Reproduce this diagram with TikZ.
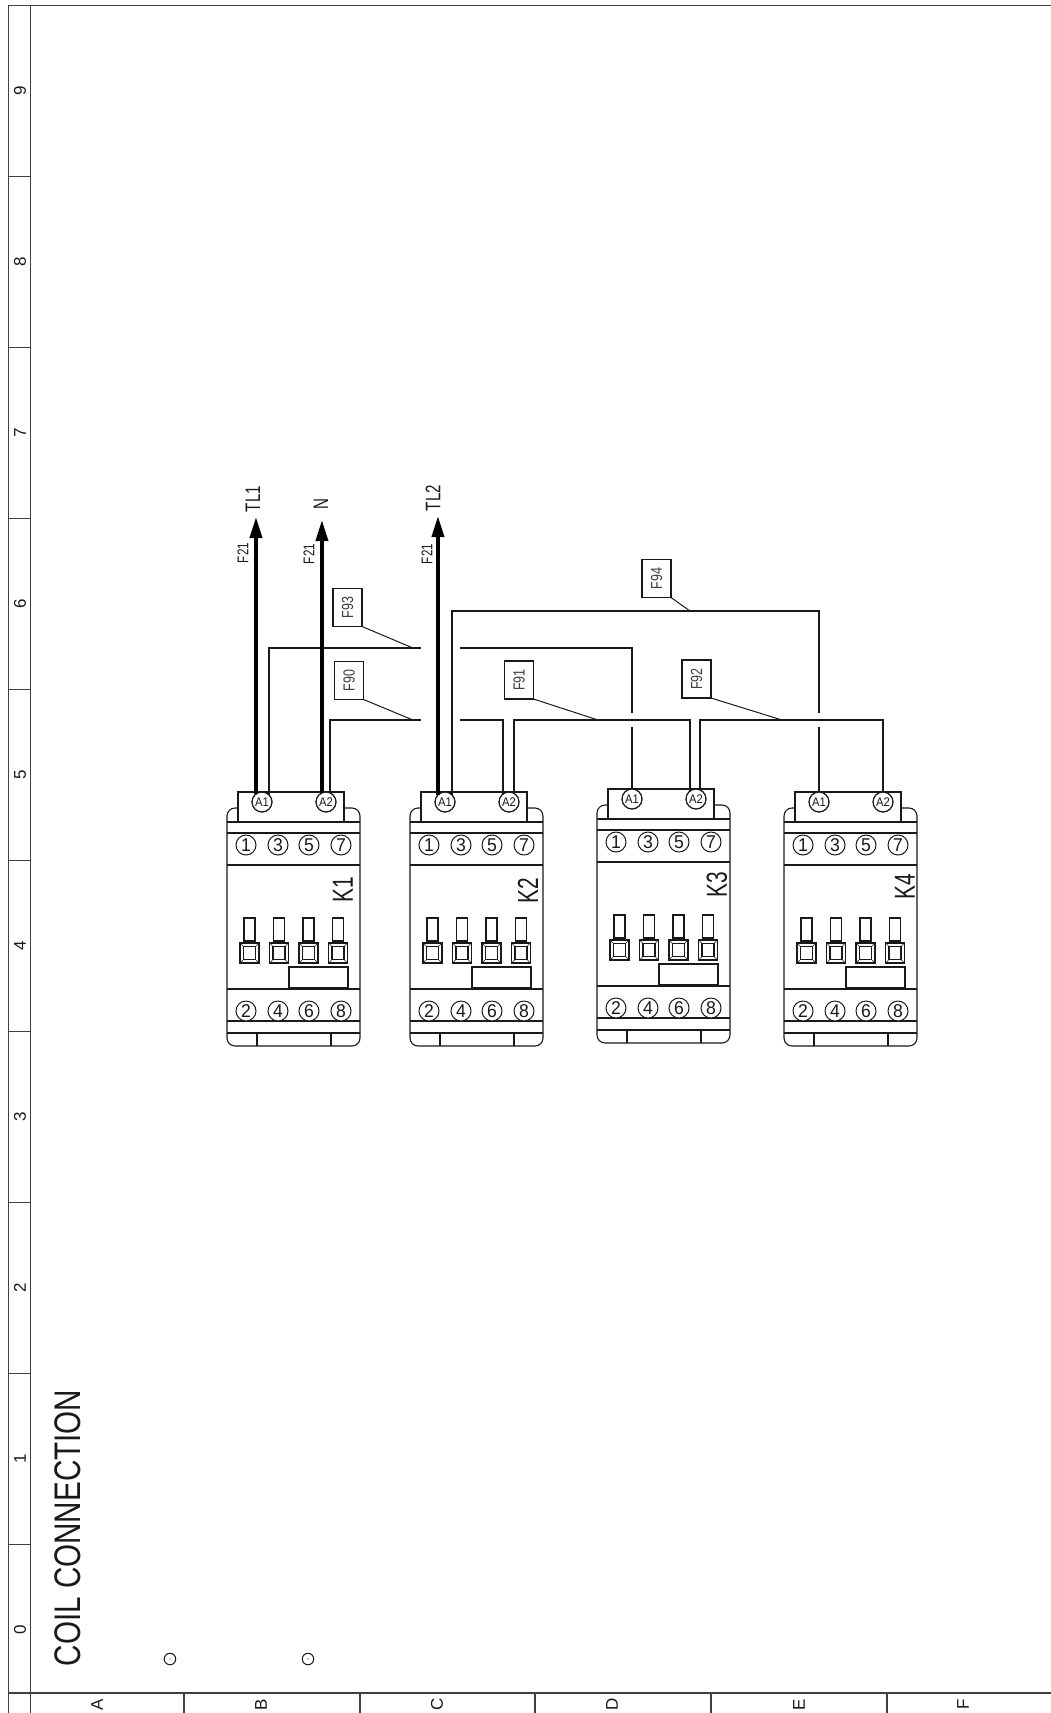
\documentclass[tikz,border=0pt]{standalone}
\usepackage{fontspec}
\usepackage{graphicx}
\setmainfont{Liberation Sans}
\usetikzlibrary{arrows.meta,calc}
\definecolor{ink}{gray}{0.1}
\definecolor{frameink}{gray}{0.25}
\newcommand{\fs}[1]{\fontsize{#1}{#1}\selectfont}
\newcommand{\sq}[2]{\scalebox{#1}[1]{#2}}
\tikzset{
  framel/.style={draw=frameink,line width=1.3pt},
  devl/.style={draw=ink,line width=1.1pt},
  wire/.style={draw=ink,line width=1.6pt,line join=miter},
  feed/.style={draw=black,line width=3.6pt,-{Triangle[length=21pt,width=12pt]}},
  leader/.style={draw=ink,line width=1pt},
  term/.style={circle,draw=ink,line width=1pt,fill=white,minimum size=20pt,inner sep=0pt,outer sep=0pt,text=ink},
  coil/.style={term,font=\fs{12.5}},
  num/.style={term,font=\fs{18.5}},
  tag/.style={draw=ink,line width=1.1pt,fill=white,minimum width=29pt,minimum height=38pt,inner sep=0pt,outer sep=0pt,text=ink!85!white,font=\fs{16}},
  rtext/.style={rotate=90,inner sep=0pt,text=ink},
}
\newcommand{\contactor}[5]{%
\begin{scope}[shift={(#2,#3)}]
  \draw[devl,rounded corners=8pt] (238,808) -- (227,808) -- (227,1046) -- (360,1046) -- (360,808) -- (344,808);
  \draw[devl,fill=white] (238,822) rectangle (344,792);
  \foreach \yy in {833,865,989,1021,1033}{\draw[devl] (227,\yy) -- (360,\yy);}
  \draw[devl] (227,822) -- (360,822);
  \draw[devl] (257,1033) -- (257,1046) (331,1033) -- (331,1046);
  \draw[devl] (289,967) rectangle (348,988);
  \foreach \xx in {0,1,2,3}{
    \begin{scope}[xshift=29.5*\xx]
      \draw[devl] (244,918) rectangle (255,941);
      \draw[devl,line width=1.1pt] (240,943) rectangle (259,963);
      \draw[devl] (243.5,946.5) rectangle (255.5,959.5);
      \draw[devl,line width=0.6pt] (240,943) -- (243.5,946.5) (259,943) -- (255.5,946.5) (240,963) -- (243.5,959.5) (259,963) -- (255.5,959.5);
    \end{scope}
  }
  \node[coil] (#1A1) at (262,802) {\sq{.9}{A1}};
  \node[coil] (#1A2) at (326,802) {\sq{.9}{A2}};
  \foreach \n/\xx in {1/246,3/278,5/309,7/341}{\node[num] (#1t\n) at (\xx,845) {\sq{.95}{\n}};}
  \foreach \n/\xx in {2/246,4/278,6/309,8/341}{\node[num] (#1t\n) at (\xx,1011) {\sq{.95}{\n}};}
  \node[rtext,font=\fs{29}] (#1lab) at (#4,#5) {\sq{.72}{#1}};
\end{scope}}
\begin{document}
\begin{tikzpicture}[x=1pt,y=-1pt]
\useasboundingbox (0,0) rectangle (1051,1713);
% sheet frame
\draw[framel] (1051,5.5) -- (8.5,5.5) -- (8.5,1713);
\draw[framel] (30.5,5.5) -- (30.5,1713);
\draw[framel] (8.5,1693) -- (1051,1693);
\foreach \yy in {176.5,347.5,518.5,689.5,860.5,1031.5,1202.5,1373.5,1544.5}{\draw[framel,line width=1pt] (8.5,\yy) -- (30.5,\yy);}
\foreach \xx in {184,360,535,711,887}{\draw[framel] (\xx,1693) -- (\xx,1713);}
\foreach \d/\yy in {9/90.5,8/261.5,7/432.5,6/603.5,5/774.5,4/945.5,3/1116.5,2/1287.5,1/1458.5,0/1629.5}{
  \node[rtext,font=\fs{17}] (dig\d) at (20,\yy) {\d};}
\foreach \d/\xx in {A/97,B/261,C/437,D/612,E/799,F/963}{
  \node[rtext,font=\fs{17}] (let\d) at (\xx,1704.5) {\d};}
\node[rtext,font=\fs{37}] (title) at (68,1528) {\sq{.8}{COIL CONNECTION}};
\node[circle,draw=ink,line width=1pt,minimum size=11.5pt,inner sep=0pt] (holeA) at (170,1659) {};
\node[circle,draw=ink,line width=1pt,minimum size=11.5pt,inner sep=0pt] (holeB) at (308,1659) {};
\fill[ink] (holeA.center) circle (0.6pt) (holeB.center) circle (0.6pt);
% contactors
\contactor{K1}{0}{0}{343}{890}
\contactor{K2}{183}{0}{345}{891}
\contactor{K3}{370}{-3}{347}{888}
\contactor{K4}{557}{0}{348}{887}
% free ends of the connectors
\coordinate (tipTL1) at (0,517);
\coordinate (tipN) at (0,520);
\coordinate (tipTL2) at (0,516);
\coordinate (busA) at (0,648);
\coordinate (busB) at (0,720);
\coordinate (busC) at (0,611);
\coordinate (gapL) at (421,0);
\coordinate (gapR) at (460,0);
\coordinate (gapT) at (0,713);
\coordinate (gapB) at (0,727);
\coordinate (hopA) at (690,611);
\coordinate (hopB) at (413,648);
\coordinate (hopC) at (413,720);
\coordinate (hopD) at (598,720);
\coordinate (hopE) at (782,720);
% coil wiring
\draw[wire] (K1A1.45) |- (gapL |- busA);
\draw[wire] (gapR |- busA) -| (K3A1.north |- gapT);
\draw[wire] (K3A1.north |- gapB) -- (K3A1.north);
\draw[wire] (K1A2.66) |- (gapL |- busB);
\draw[wire] (gapR |- busB) -| (K2A2.127);
\draw[wire] (K2A2.60) |- (K3A2.127 |- busB) -- (K3A2.127);
\draw[wire] (K3A2.66) |- (K4A2.north |- busB) -- (K4A2.north);
\draw[wire] (K2A1.45) |- (K4A1.north |- busC) -- (K4A1.north |- gapT);
\draw[wire] (K4A1.north |- gapB) -- (K4A1.north);
% supply feeds
\draw[feed] (K1A1.127) -- (K1A1.127 |- tipTL1);
\draw[feed] (K1A2.114) -- (K1A2.114 |- tipN);
\draw[feed] (K2A1.135) -- (K2A1.135 |- tipTL2);
% redraw terminals over the wires' ends
\foreach \k in {K1,K2,K3,K4}{\draw[draw=ink,line width=1pt] (\k A1) circle (10pt) (\k A2) circle (10pt);}
% feed labels
\node[rtext,font=\fs{21}] (lTL1) at (253,499) {\sq{.72}{TL1}};
\node[rtext,font=\fs{21}] (lN) at (321,504) {\sq{.72}{N}};
\node[rtext,font=\fs{21}] (lTL2) at (433,498) {\sq{.72}{TL2}};
\node[rtext,font=\fs{15.5}] (f21a) at (243,553) {\sq{.75}{F21}};
\node[rtext,font=\fs{15.5}] (f21b) at (309,554) {\sq{.75}{F21}};
\node[rtext,font=\fs{15.5}] (f21c) at (427,554) {\sq{.75}{F21}};
% wire tags
\node[tag] (F93) at (347.5,607.5) {\rotatebox{90}{\sq{.78}{F93}}};
\node[tag] (F90) at (349,680.5) {\rotatebox{90}{\sq{.78}{F90}}};
\node[tag] (F91) at (519,680) {\rotatebox{90}{\sq{.78}{F91}}};
\node[tag] (F92) at (696.5,679) {\rotatebox{90}{\sq{.78}{F92}}};
\node[tag] (F94) at (656.5,578.5) {\rotatebox{90}{\sq{.78}{F94}}};
\draw[leader] (F93.south east) -- (hopB);
\draw[leader] (F90.south east) -- (hopC);
\draw[leader] (F91.south east) -- (hopD);
\draw[leader] (F92.south east) -- (hopE);
\draw[leader] (F94.south east) -- (hopA);
\end{tikzpicture}
\end{document}
